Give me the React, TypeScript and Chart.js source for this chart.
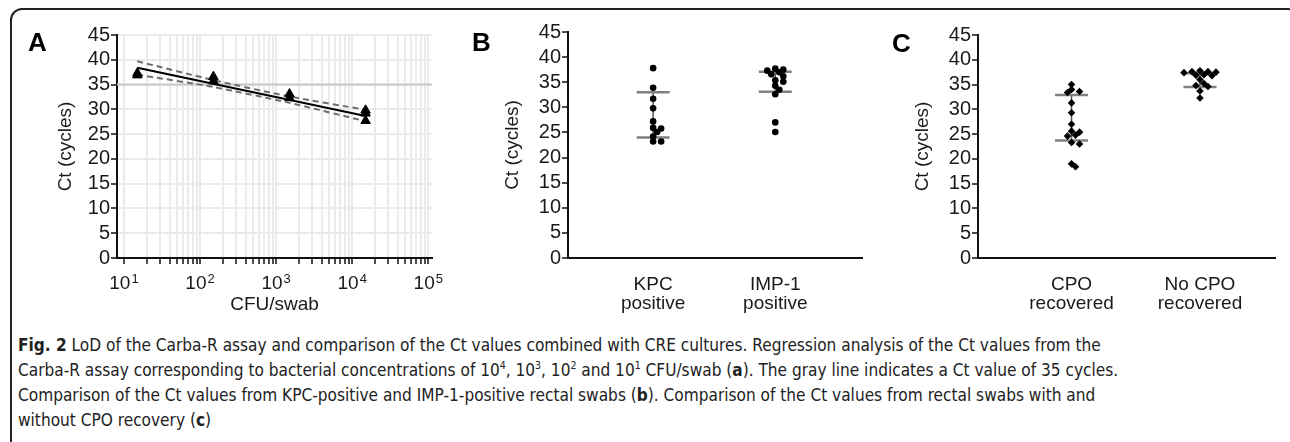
import React, { useEffect, useRef } from 'react';
import { Chart, registerables } from 'chart.js';

Chart.register(...registerables);

// ---------------- data ----------------
const ctTicks = [0, 5, 10, 15, 20, 25, 30, 35, 40, 45];

// Panel A: LoD regression
const lodCfu = [15, 15, 150, 150, 1500, 1500, 15000, 15000, 15000];
const lodCt = [37.3, 36.9, 36.6, 35.7, 33.1, 32.3, 29.8, 29.2, 27.7];
const fitCfu = [15, 15000];
const fitCt = [38.4, 28.65];
const bandCfu = [15, 150, 1500, 15000];
const bandUpperCt = [39.7, 35.9, 32.6, 29.9];
const bandLowerCt = [37.0, 34.5, 31.3, 27.6];
const cutoffCt = 35;
const cfuDecades = [10, 100, 1000, 10000, 100000];
const cfuExponents = ['1', '2', '3', '4', '5'];

// Panel B: KPC vs IMP-1
const groupsB = [['KPC', 'positive'], ['IMP-1', 'positive']];
const kpcCt = [37.8, 33.9, 31.7, 29.8, 27.2, 25.9, 25.8, 25.1, 24.2, 23.2, 23.2];
const imp1Ct = [37.7, 37.5, 37.3, 37.0, 36.6, 36.2, 35.4, 35.1, 34.3, 33.5, 32.6, 27.0, 25.1];
const kpcIqr = [24.0, 33.0];
const imp1Iqr = [33.1, 37.1];

// Panel C: CPO recovered vs not
const groupsC = [['CPO', 'recovered'], ['No CPO', 'recovered']];
const cpoCt = [35.0, 34.0, 33.6, 33.4, 31.3, 29.3, 27.0, 25.6, 25.4, 24.8, 24.6, 23.3, 23.0, 19.0, 18.4];
const noCpoCt = [37.8, 37.6, 37.6, 37.5, 37.4, 37.0, 36.9, 36.8, 36.0, 35.2, 34.8, 34.6, 33.7, 32.3];
const cpoIqr = [23.7, 32.9];
const noCpoIqr = [34.5, 37.3];

// ---------------- layout / style ----------------
const FONT = '"Liberation Sans", Arial, Helvetica, sans-serif';
const TEXT = '#1a1a1a';
const AXIS = '#111';
const CANVAS_H = 330;

const A_XMIN = 8.1;
const A_XMAX = 112000;

type Area = { l: number; r: number; t: number; b: number };

// simple deterministic beeswarm (allows partial overlap like the original)
function swarm(values: number[], center: number, pxX: number, pxY: number, minDist: number, step: number) {
  const placed: { x: number; y: number }[] = [];
  return values.map((v) => {
    let best = center;
    for (let k = 0; k < 40; k++) {
      const off = k === 0 ? 0 : (k % 2 ? 1 : -1) * Math.ceil(k / 2) * step;
      const cx = center + off / pxX;
      if (placed.every((p) => Math.hypot((p.x - cx) * pxX, (p.y - v) * pxY) >= minDist)) {
        best = cx;
        break;
      }
    }
    placed.push({ x: best, y: v });
    return { x: best, y: v };
  });
}

function yScale(area: Area, titleCenterX: number, grid: boolean) {
  return {
    type: 'linear',
    min: 0,
    max: 45,
    afterBuildTicks: (s: any) => {
      s.ticks = ctTicks.map((v) => ({ value: v }));
    },
    afterFit: (s: any) => {
      s.width = area.l;
    },
    border: { display: true, color: AXIS, width: 2 },
    grid: {
      display: true,
      drawOnChartArea: grid,
      color: '#ebebeb',
      lineWidth: 2,
      tickLength: 6,
      tickColor: AXIS,
      tickWidth: 1.5,
    },
    ticks: { color: TEXT, font: { family: FONT, size: 20, lineHeight: 1 }, padding: 1, autoSkip: false },
    title: {
      display: true,
      text: 'Ct (cycles)',
      color: TEXT,
      font: { family: FONT, size: 19, lineHeight: 1.2 },
      padding: { top: titleCenterX - 11.4, bottom: 0 },
    },
  };
}

function baseOptions(width: number, area: Area, scales: any) {
  return {
    animation: false,
    responsive: false,
    maintainAspectRatio: false,
    events: [],
    layout: { padding: { left: 0, top: area.t, right: width - area.r, bottom: 0 } },
    plugins: { legend: { display: false }, tooltip: { enabled: false } },
    scales,
  };
}

const decadeLabelPlugin = {
  id: 'decadeLabels',
  afterDraw(chart: any) {
    const xs = chart.scales.x;
    const ctx = chart.ctx;
    const baseY = chart.chartArea.bottom + 31;
    ctx.save();
    ctx.fillStyle = TEXT;
    ctx.textBaseline = 'alphabetic';
    ctx.textAlign = 'left';
    cfuDecades.forEach((v, i) => {
      const px = xs.getPixelForValue(v);
      ctx.font = `19px ${FONT}`;
      const bw = ctx.measureText('10').width;
      ctx.font = `13px ${FONT}`;
      const ew = ctx.measureText(cfuExponents[i]).width;
      const x0 = px - (bw + ew + 1) / 2;
      ctx.font = `19px ${FONT}`;
      ctx.fillText('10', x0, baseY);
      ctx.font = `13px ${FONT}`;
      ctx.fillText(cfuExponents[i], x0 + bw + 1, baseY - 6);
    });
    ctx.restore();
  },
};

function configA(width: number, area: Area) {
  const minorTicks: number[] = [];
  for (let d = 10; d < 100000; d *= 10) for (let m = 1; m < 10; m++) minorTicks.push(d * m);
  minorTicks.push(100000);
  const pts = (xs: number[], ys: number[]) => xs.map((x, i) => ({ x, y: ys[i] }));
  return {
    type: 'scatter',
    data: {
      datasets: [
        {
          data: pts(lodCfu, lodCt),
          pointStyle: 'triangle',
          pointRadius: 5.5,
          backgroundColor: '#000',
          borderColor: '#000',
          borderWidth: 1,
          order: 0,
        },
        {
          data: pts(fitCfu, fitCt),
          showLine: true,
          borderColor: '#000',
          borderWidth: 2.2,
          pointRadius: 0,
          order: 1,
        },
        {
          data: pts(bandCfu, bandUpperCt),
          showLine: true,
          borderColor: '#6e6e6e',
          borderWidth: 2,
          borderDash: [6, 4],
          tension: 0.25,
          pointRadius: 0,
          order: 2,
        },
        {
          data: pts(bandCfu, bandLowerCt),
          showLine: true,
          borderColor: '#6e6e6e',
          borderWidth: 2,
          borderDash: [6, 4],
          tension: 0.25,
          pointRadius: 0,
          order: 2,
        },
        {
          data: [
            { x: A_XMIN, y: cutoffCt },
            { x: A_XMAX, y: cutoffCt },
          ],
          showLine: true,
          borderColor: '#c8c8c8',
          borderWidth: 2,
          pointRadius: 0,
          order: 3,
        },
      ],
    },
    options: baseOptions(width, area, {
      x: {
        type: 'logarithmic',
        min: A_XMIN,
        max: A_XMAX,
        afterBuildTicks: (s: any) => {
          s.ticks = minorTicks.map((v) => ({ value: v, major: cfuDecades.includes(v) }));
        },
        afterFit: (s: any) => {
          s.height = CANVAS_H - area.b;
        },
        border: { display: true, color: AXIS, width: 2 },
        grid: {
          display: true,
          drawOnChartArea: true,
          color: '#ebebeb',
          lineWidth: 2,
          tickLength: 6,
          tickColor: AXIS,
          tickWidth: 1.5,
        },
        ticks: { autoSkip: false, maxRotation: 0, callback: () => '' },
        title: {
          display: true,
          text: 'CFU/swab',
          color: TEXT,
          font: { family: FONT, size: 19, lineHeight: 1.2 },
          padding: { top: 0, bottom: CANVAS_H - 305 - 11.4 },
        },
      },
      y: yScale(area, 66, true),
    }),
    plugins: [decadeLabelPlugin],
  };
}

function configGroup(
  width: number,
  area: Area,
  xmin: number,
  xmax: number,
  titleCenterX: number,
  groups: string[][],
  values: number[][],
  iqrs: number[][],
  pointStyle: string,
  radius: number
) {
  const pxX = (area.r - area.l) / (xmax - xmin);
  const pxY = (area.b - area.t) / 45;
  const half = 16.5 / pxX;
  const datasets: any[] = [];
  values.forEach((vals, gi) => {
    datasets.push({
      data: swarm(vals, gi + 1, pxX, pxY, 4.5, 4),
      pointStyle,
      pointRadius: radius,
      backgroundColor: '#000',
      borderColor: '#000',
      borderWidth: 0,
      order: 0,
    });
  });
  iqrs.forEach((iqr, gi) => {
    const c = gi + 1;
    datasets.push({
      data: [
        { x: c, y: iqr[0] },
        { x: c, y: iqr[1] },
      ],
      showLine: true,
      borderColor: '#555',
      borderWidth: 1.5,
      pointRadius: 0,
      order: 2,
    });
    iqr.forEach((q) => {
      datasets.push({
        data: [
          { x: c - half, y: q },
          { x: c + half, y: q },
        ],
        showLine: true,
        borderColor: '#808080',
        borderWidth: 2.5,
        pointRadius: 0,
        order: 1,
      });
    });
  });
  return {
    type: 'scatter',
    data: { datasets },
    options: baseOptions(width, area, {
      x: {
        type: 'linear',
        min: xmin,
        max: xmax,
        afterBuildTicks: (s: any) => {
          s.ticks = groups.map((_, i) => ({ value: i + 1 }));
        },
        afterFit: (s: any) => {
          s.height = CANVAS_H - area.b;
        },
        border: { display: true, color: AXIS, width: 2 },
        grid: { display: false },
        ticks: {
          autoSkip: false,
          maxRotation: 0,
          padding: 9,
          color: TEXT,
          font: { family: FONT, size: 19, lineHeight: 1.0 },
          callback: (v: number) => groups[Math.round(v) - 1] || '',
        },
      },
      y: yScale(area, titleCenterX, false),
    }),
  };
}

function ChartCanvas({ left, width, build }: { left: number; width: number; build: () => any }) {
  const ref = useRef<HTMLCanvasElement | null>(null);
  useEffect(() => {
    if (!ref.current) return;
    const chart = new Chart(ref.current, build());
    return () => chart.destroy();
  }, []);
  return (
    <canvas
      ref={ref}
      width={width}
      height={CANVAS_H}
      style={{ position: 'absolute', left, top: 0, width, height: CANVAS_H }}
    />
  );
}

const letterStyle = (left: number, top: number): React.CSSProperties => ({
  position: 'absolute',
  left,
  top,
  fontFamily: FONT,
  fontWeight: 'bold',
  fontSize: 26,
  lineHeight: '26px',
  color: '#000',
});

const supStyle: React.CSSProperties = { fontSize: 11, lineHeight: 0, verticalAlign: 'super' };

export default function App() {
  const areaA: Area = { l: 117, r: 432, t: 35, b: 258 };
  const areaB: Area = { l: 118, r: 412, t: 32, b: 258 };
  const areaC: Area = { l: 108, r: 405, t: 35, b: 258 };
  const capFont = '"DejaVu Sans Condensed", "DejaVu Sans", sans-serif';
  const lineStyle: React.CSSProperties = { whiteSpace: 'nowrap', height: 25, lineHeight: '25px' };
  return (
    <div
      style={{
        position: 'absolute',
        left: 0,
        top: 0,
        width: 1290,
        height: 442,
        overflow: 'hidden',
        background: '#fff',
      }}
    >
      <div
        style={{
          position: 'absolute',
          left: 10,
          top: 8,
          width: 1290,
          height: 450,
          border: '2px solid #222',
          borderRadius: 12,
          boxSizing: 'border-box',
        }}
      />
      <ChartCanvas left={0} width={450} build={() => configA(450, areaA)} />
      <ChartCanvas
        left={450}
        width={420}
        build={() =>
          configGroup(420, areaB, 0.303, 2.71, 63, groupsB, [kpcCt, imp1Ct], [kpcIqr, imp1Iqr], 'circle', 3.3)
        }
      />
      <ChartCanvas
        left={870}
        width={420}
        build={() =>
          configGroup(420, areaC, 0.272, 2.584, 53, groupsC, [cpoCt, noCpoCt], [cpoIqr, noCpoIqr], 'rectRot', 3.8)
        }
      />
      <div style={letterStyle(28, 29)}>A</div>
      <div style={letterStyle(472, 29)}>B</div>
      <div style={letterStyle(892, 30)}>C</div>
      <div
        style={{
          position: 'absolute',
          left: 18,
          top: 332,
          fontFamily: capFont,
          fontStretch: 'condensed',
          fontSize: 18,
          color: '#222',
          transform: 'scaleX(0.95)',
          transformOrigin: 'left top',
        }}
      >
        <div style={lineStyle}>
          <b>Fig. 2</b> LoD of the Carba-R assay and comparison of the Ct values combined with CRE cultures. Regression
          analysis of the Ct values from the
        </div>
        <div style={lineStyle}>
          Carba-R assay corresponding to bacterial concentrations of 10<sup style={supStyle}>4</sup>, 10
          <sup style={supStyle}>3</sup>, 10<sup style={supStyle}>2</sup> and 10<sup style={supStyle}>1</sup> CFU/swab
          (<b>a</b>). The gray line indicates a Ct value of 35 cycles.
        </div>
        <div style={lineStyle}>
          Comparison of the Ct values from KPC-positive and IMP-1-positive rectal swabs (<b>b</b>). Comparison of the Ct
          values from rectal swabs with and
        </div>
        <div style={lineStyle}>
          without CPO recovery (<b>c</b>)
        </div>
      </div>
    </div>
  );
}
